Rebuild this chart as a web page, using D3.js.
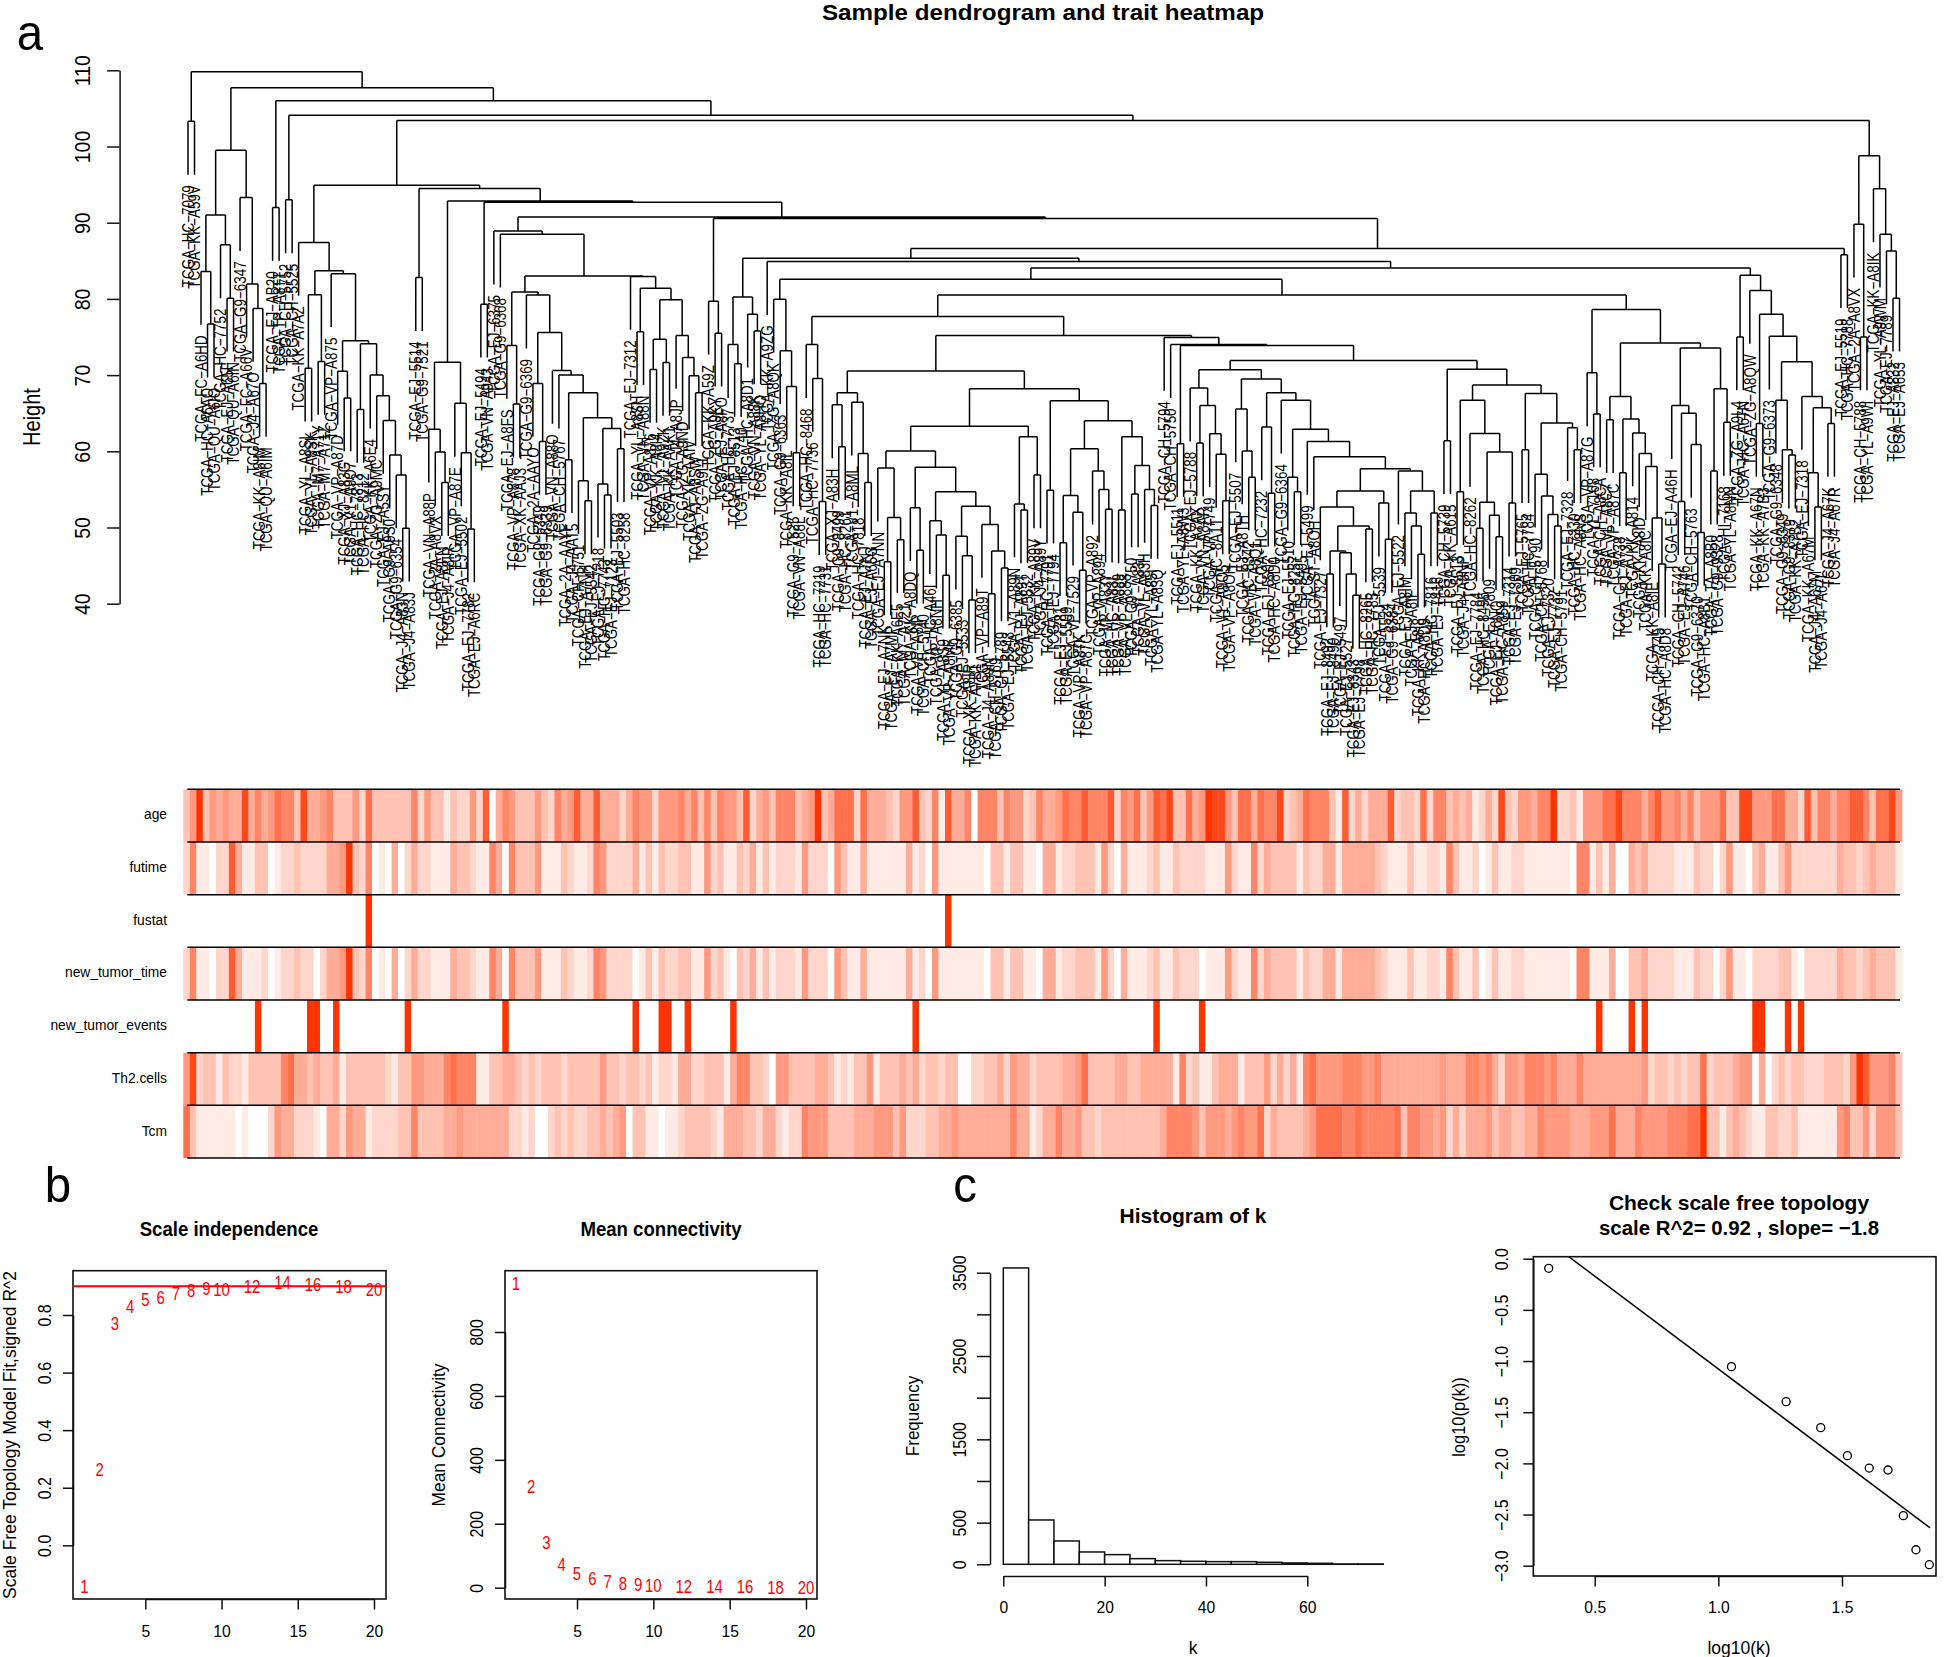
<!DOCTYPE html>
<html>
<head>
<meta charset="utf-8">
<script src="https://cdnjs.cloudflare.com/ajax/libs/d3/7.8.5/d3.min.js"></script>
<style>
html,body{margin:0;padding:0;background:#fff;}
svg{display:block;}
text{font-family:"Liberation Sans",Arial,sans-serif;fill:#000;}
</style>
</head>
<body>
<script>
// ---------- DATA ----------
const traitNames = ["age","futime","fustat","new_tumor_time","new_tumor_events","Th2.cells","Tcm"];

const age = [3,5,10,3,5,4,5,4,4,9,4,6,4,5,7,6,6,3,9,4,4,5,6,3,3,3,5,2,7,3,3,3,3,3,3,6,2,5,3,3,1,3,2,2,5,2,8,0,4,6,5,3,3,3,5,3,2,6,4,5,8,4,4,8,
4,4,4,2,4,6,5,5,2,5,5,5,6,4,6,3,6,3,6,5,5,3,8,2,4,5,3,6,6,6,3,4,5,10,3,4,7,7,7,2,7,4,4,4,3,2,5,5,8,3,2,6,1,8,4,4,6,0,6,6,6,3,6,5,5,
2,3,6,4,4,5,7,6,6,8,6,6,6,8,2,6,5,7,3,5,8,7,9,3,3,7,4,5,10,9,9,5,3,7,7,4,7,6,6,9,2,3,4,7,6,6,6,3,1,8,2,4,2,4,4,4,8,2,3,3,2,
7,2,6,6,3,4,3,4,1,2,4,2,9,3,2,5,5,4,6,6,10,2,2,3,1,5,5,5,7,7,9,6,6,6,4,6,8,5,5,6,4,6,3,5,5,5,7,3,3,9,9,5,5,5,7,7,4,4,2,8,3,6,6,4,6,6,8,8,6,3,7,7,9,5];

const futime = [2,6,1,1,0,2,2,8,4,1,1,3,3,0,1,2,2,3,2,2,2,2,4,4,5,10,3,2,6,0,1,0,4,0,2,4,2,2,1,1,1,4,3,3,2,1,1,6,4,0,6,3,3,3,5,1,1,1,3,2,1,1,2,6,
5,2,2,2,2,4,1,3,1,3,2,2,3,3,1,1,5,2,3,1,1,3,2,4,1,3,1,2,2,2,1,5,2,2,2,0,5,3,1,1,4,1,1,1,1,1,1,4,1,2,0,5,1,1,1,1,1,1,1,0,3,3,1,3,3,
1,1,0,4,4,1,2,2,3,3,3,1,5,2,0,4,1,1,1,2,3,1,1,3,2,2,2,2,1,1,1,5,2,1,1,6,2,4,3,3,3,3,1,3,2,2,4,4,1,4,4,4,4,4,3,2,1,1,1,3,1,
1,2,2,1,6,3,1,1,2,0,1,3,1,1,2,2,1,1,1,1,1,1,1,0,6,6,1,3,1,4,0,0,4,3,4,2,2,2,2,1,1,1,3,2,2,0,2,5,1,1,0,3,4,1,1,3,5,2,2,2,2,2,2,2,4,3,3,2,3,4,3,3,3,1];

const fustat = [0,0,0,0,0,0,0,0,0,0,0,0,0,0,0,0,0,0,0,0,0,0,0,0,0,0,0,0,10,0,0,0,0,0,0,0,0,0,0,0,0,0,0,0,0,0,0,0,0,0,0,0,0,0,0,0,0,0,0,0,0,0,0,0,
0,0,0,0,0,0,0,0,0,0,0,0,0,0,0,0,0,0,0,0,0,0,0,0,0,0,0,0,0,0,0,0,0,0,0,0,0,0,0,0,0,0,0,0,0,0,0,0,0,0,0,0,0,10,0,0,0,0,0,0,0,0,0,0,0,
0,0,0,0,0,0,0,0,0,0,0,0,0,0,0,0,0,0,0,0,0,0,0,0,0,0,0,0,0,0,0,0,0,0,0,0,0,0,0,0,0,0,0,0,0,0,0,0,0,0,0,0,0,0,0,0,0,0,0,0,0,
0,0,0,0,0,0,0,0,0,0,0,0,0,0,0,0,0,0,0,0,0,0,0,0,0,0,0,0,0,0,0,0,0,0,0,0,0,0,0,0,0,0,0,0,0,0,0,0,0,0,0,0,0,0,0,0,0,0,0,0,0,0,0,0,0,0,0,0,0,0,0,0,0,0];

const newTumorTime = [2,6,1,1,0,2,2,8,4,1,1,1,2,0,1,2,2,3,2,2,0,2,4,4,5,10,3,2,6,0,1,0,4,0,2,4,2,2,1,1,1,4,3,3,2,1,1,6,4,0,6,3,3,3,5,1,1,1,3,2,1,1,2,6,
5,2,2,2,2,0,1,3,1,3,2,2,3,3,1,1,5,2,3,1,0,3,2,4,1,3,1,2,2,2,1,5,2,2,2,0,5,3,1,1,4,1,1,1,1,1,1,4,1,2,0,5,1,1,1,1,1,1,1,0,3,3,1,3,3,
1,1,0,4,4,1,2,2,3,3,3,1,5,2,0,4,1,1,1,2,3,1,1,3,2,2,2,0,1,1,1,5,2,1,1,6,2,4,3,3,3,3,1,3,2,2,4,4,1,4,4,4,4,4,3,2,1,1,1,3,1,
1,2,2,1,6,3,1,1,3,0,1,3,1,1,2,2,1,1,1,1,1,1,1,0,6,6,1,1,1,4,0,0,3,3,4,2,2,2,2,1,1,1,3,2,2,0,2,5,1,1,0,2,2,2,2,3,3,1,0,2,2,2,2,2,4,3,3,2,3,4,3,3,3,1];

const newTumorEvents = [0,0,0,0,0,0,0,0,0,0,0,10,0,0,0,0,0,0,0,10,10,0,0,10,0,0,0,0,0,0,0,0,0,0,10,0,0,0,0,0,0,0,0,0,0,0,0,0,0,10,0,0,0,0,0,0,0,0,0,0,0,0,0,0,
0,0,0,0,0,10,0,0,0,10,10,0,0,10,0,0,0,0,0,0,10,0,0,0,0,0,0,0,0,0,0,0,0,0,0,0,0,0,0,0,0,0,0,0,0,0,0,0,10,0,0,0,0,0,0,0,0,0,0,0,0,0,0,0,0,
0,0,0,0,0,0,0,0,0,0,0,0,0,0,0,0,0,0,0,0,10,0,0,0,0,0,0,10,0,0,0,0,0,0,0,0,0,0,0,0,0,0,0,0,0,0,0,0,0,0,0,0,0,0,0,0,0,0,0,0,0,
0,0,0,0,0,0,0,0,0,0,0,0,0,0,0,0,0,0,0,0,0,0,0,0,0,0,0,10,0,0,0,0,10,0,10,0,0,0,0,0,0,0,0,0,0,0,0,0,0,0,0,10,10,0,0,0,10,0,10,0,0,0,0,0,0,0,0,0,0,0,0,0,0,0];

const th2Cells = [5,9,2,3,3,1,3,2,2,1,3,3,3,3,3,6,7,4,4,3,4,3,3,4,1,3,3,3,3,3,3,2,1,3,3,5,5,4,4,4,6,7,6,6,6,1,1,3,3,4,4,3,2,3,2,3,3,3,2,3,3,3,3,3,
5,3,3,2,3,3,2,3,1,2,2,1,4,4,2,2,3,3,3,1,4,6,6,3,3,2,0,5,5,3,3,3,3,4,4,3,1,2,1,3,3,5,1,3,3,3,4,3,4,2,3,3,2,3,3,0,0,2,2,3,3,4,2,5,4,
4,2,3,3,3,3,4,4,5,7,3,3,3,3,4,4,3,3,4,4,4,4,4,1,6,2,3,1,1,3,4,4,4,1,3,3,3,5,2,4,2,4,1,6,7,5,5,5,5,6,6,6,5,5,6,4,4,4,4,4,4,
4,4,4,5,4,4,4,6,6,5,6,4,2,5,5,4,6,6,6,5,6,4,4,4,6,4,4,4,4,4,4,4,4,4,5,2,3,3,2,3,2,3,3,7,2,3,3,3,4,5,5,0,4,0,2,3,2,3,3,2,2,2,3,3,3,2,5,10,8,5,5,5,6,3];

const tcm = [7,3,1,1,1,1,1,1,0,1,0,0,0,2,5,4,4,2,2,2,1,0,4,4,2,5,4,4,1,2,2,2,2,3,3,6,3,3,3,3,4,4,5,4,4,4,4,4,4,4,2,2,1,2,0,0,2,3,2,3,2,2,3,3,
4,3,4,5,0,3,3,1,1,0,1,1,2,3,3,3,3,2,1,4,4,4,3,3,2,4,4,2,1,2,2,6,5,5,5,3,3,3,3,4,4,4,5,5,5,3,5,2,2,2,3,3,4,4,5,4,4,4,4,4,4,4,4,6,4,
4,1,2,4,4,6,4,4,5,3,3,2,3,3,3,3,3,3,3,3,3,4,6,6,6,6,5,3,5,5,5,4,5,6,5,5,7,2,4,3,3,3,3,4,5,7,7,7,7,6,6,7,6,6,6,6,6,7,3,6,6,
5,5,4,5,2,4,2,4,4,4,5,3,4,4,3,3,4,4,6,5,5,5,5,4,4,4,5,5,5,7,4,4,4,6,5,5,5,5,6,6,6,7,7,10,3,3,1,3,4,3,2,1,1,3,3,2,2,3,1,1,1,1,1,1,5,6,3,3,5,2,5,5,5,3];

const traitRows = [age, futime, fustat, newTumorTime, newTumorEvents, th2Cells, tcm];

const leafLabels = ["TCGA-HC-7079","TCGA-KK-A59V","TCGA-FC-A6HD","TCGA-HC-A6AO","TCGA-QU-A6IO","TCGA-HC-7752","TCGA-EJ-A65F","TCGA-QU-A6IN","TCGA-G9-6347","TCGA-FC-A66V",
"TCGA-J4-A67O","TCGA-KK-A8IM","TCGA-QU-A6IM","TCGA-EJ-AB20","TCGA-TP-A8TT","TCGA-CH-5752","TCGA-CH-5525","TCGA-KK-A7AZ","TCGA-YL-A8SL","TCGA-YL-A8SK",
"TCGA-M7-A71Y","TCGA-M7-A71Z","TCGA-VP-A875","TCGA-VP-A87D","TCGA-XJ-A83G","TCGA-V1-A9O7","TCGA-HC-7813","TCGA-HC-8212","TCGA-KK-A6E4","TCGA-ZG-A9MC",
"TCGA-EJ-A5SY","TCGA-G9-A9S0","TCGA-G9-6354","TCGA-J4-A83N","TCGA-J4-A83J","TCGA-EJ-5514","TCGA-G9-7521","TCGA-VN-A88P","TCGA-2A-A8VX","TCGA-EJ-A8FN",
"TCGA-J4-A8IR","TCGA-VP-A87E","TCGA-EJ-5502","TCGA-EJ-7782","TCGA-EJ-A6RC","TCGA-EJ-5494","TCGA-VN-A943","TCGA-EJ-6375","TCGA-G9-6368","TCGA-EJ-A8FS",
"TCGA-VP-A878","TCGA-XK-AAJ3","TCGA-G9-6369","TCGA-2A-AAYO","TCGA-G9-6349","TCGA-G9-6339","TCGA-VN-A88O","TCGA-CH-5767","TCGA-2A-AAYF","TCGA-J4-AAT5",
"TCGA-CH-5751","TCGA-EJ-A7NH","TCGA-EJ-5542","TCGA-EJ-7218","TCGA-HC-7743","TCGA-EJ-7123","TCGA-EJ-5503","TCGA-HC-8258","TCGA-EJ-7312","TCGA-YL-A8SH",
"TCGA-VN-A88N","TCGA-VP-A876","TCGA-KK-A8I4","TCGA-V1-A9ZK","TCGA-KK-AAK1","TCGA-J4-A8JP","TCGA-ZG-A9ND","TCGA-XK-AAIV","TCGA-YJ-A8SW","TCGA-ZG-A9L1",
"TCGA-KK-A59Z","TCGA-ZG-A9KY","TCGA-EJ-A8FO","TCGA-HC-7737","TCGA-EJ-8513","TCGA-HC-7740","TCGA-HC-A8D1","TCGA-VN-A88K","TCGA-YL-A8HO","TCGA-KK-A9ZG",
"TCGA-ZG-A8QK","TCGA-G9-6363","TCGA-KK-A8IL","TCGA-G9-7525","TCGA-VN-A88L","TCGA-HC-8468","TCGA-HC-7736","TCGA-HC-7219","TCGA-HC-7731","TCGA-XJ-A83H",
"TCGA-G9-8499","TCGA-HC-8261","TCGA-V1-A8ML","TCGA-HC-7818","TCGA-EJ-A7NJ","TCGA-EJ-A65G","TCGA-EJ-A7NN","TCGA-EJ-A7NK","TCGA-EJ-A7MP","TCGA-KK-A6E5",
"TCGA-M7-A721","TCGA-KK-A8DQ","TCGA-VP-A8IP","TCGA-CH-5740","TCGA-HC-A46I","TCGA-VP-A8NH","TCGA-YL-A8S9","TCGA-VP-A8MF","TCGA-G9-6385","TCGA-EJ-5533",
"TCGA-XK-A8IR","TCGA-KK-A7B1","TCGA-VP-A89T","TCGA-J4-A89N","TCGA-CH-5769","TCGA-CH-5789","TCGA-EJ-5543","TCGA-V1-A89N","TCGA-EJ-A89T","TCGA-EJ-5532",
"TCGA-KK-A89V","TCGA-J4-A89Y","TCGA-HC-7791","TCGA-EJ-7794","TCGA-EJ-7781","TCGA-EJ-5509","TCGA-VP-7529","TCGA-VP-A87K","TCGA-VP-A87C","TCGA-VP-A892",
"TCGA-VP-A894","TCGA-VP-A83Y","TCGA-HC-A83L","TCGA-VP-A889","TCGA-VP-A888","TCGA-G9-7750","TCGA-YL-A83I","TCGA-VL-A83H","TCGA-YL-A85I","TCGA-YL-A83Q",
"TCGA-CH-5794","TCGA-CH-5750","TCGA-EJ-5511","TCGA-YL-A8W3","TCGA-EJ-5788","TCGA-KK-A7AX","TCGA-VN-A8AR","TCGA-VP-7749","TCGA-HC-8A1T","TCGA-V1-A9O5",
"TCGA-VP-A8OH","TCGA-EJ-5507","TCGA-EJ-A8TH","TCGA-HC-8342","TCGA-VP-A8Q1","TCGA-HC-7232","TCGA-EJ-5507","TCGA-HC-A8D0","TCGA-G9-6364","TCGA-EJ-5510",
"TCGA-HC-8257","TCGA-EJ-5495","TCGA-EJ-5499","TCGA-ST-A8OH","TCGA-EJ-7327","TCGA-EJ-8492","TCGA-EJ-8490","TCGA-EJ-5497","TCGA-EJ-5527","TCGA-EJ-8343",
"TCGA-EJ-7798","TCGA-HC-8265","TCGA-HC-7785","TCGA-EJ-5539","TCGA-EJ-5524","TCGA-G9-6384","TCGA-EJ-5522","TCGA-EJ-A8IM","TCGA-EJ-A8IF","TCGA-KK-A8I8",
"TCGA-HC-A8D9","TCGA-HC-7816","TCGA-EJ-7416","TCGA-CH-5739","TCGA-KK-A615","TCGA-EJ-5513","TCGA-J4-A8NP","TCGA-HC-8262","TCGA-EJ-7784","TCGA-HC-8496",
"TCGA-EJ-7809","TCGA-EJ-A6NQ","TCGA-HC-A859","TCGA-EJ-7314","TCGA-EJ-7309","TCGA-EJ-5765","TCGA-HC-7784","TCGA-CH-5790","TCGA-CH-5768","TCGA-EJ-7320",
"TCGA-EJ-7732","TCGA-CH-5791","TCGA-EJ-7328","TCGA-HC-7230","TCGA-HC-A8NS","TCGA-VP-A87G","TCGA-YL-7168","TCGA-CH-A8CA","TCGA-VL-A8C7","TCGA-VP-A87C",
"TCGA-CH-A738","TCGA-EJ-A737","TCGA-KK-A814","TCGA-KK-A8ID","TCGA-KK-A8IC","TCGA-KK-A8IE","TCGA-CH-7745","TCGA-HC-A8D8","TCGA-EJ-A46H","TCGA-CH-5742",
"TCGA-EJ-A746","TCGA-CH-5763","TCGA-G9-6370","TCGA-HC-A8B1","TCGA-TA-A8B0","TCGA-G9-9328","TCGA-HI-7168","TCGA-YL-A8NN","TCGA-ZG-A9L4","TCGA-HC-A67N",
"TCGA-ZG-A8QW","TCGA-KK-A67N","TCGA-KK-A7B3","TCGA-G9-6373","TCGA-G9-6348","TCGA-G9-6349","TCGA-G9-8379","TCGA-KK-A7B2","TCGA-EJ-7318","TCGA-KK-A67M",
"TCGA-J4-A67M","TCGA-J4-A67L","TCGA-J4-A67K","TCGA-J4-A67R","TCGA-EJ-5519","TCGA-HC-7788","TCGA-2A-A8VX","TCGA-CH-5788","TCGA-YL-A9WI","TCGA-KK-A8IK",
"TCGA-YL-A9WM","TCGA-EJ-7789","TCGA-EJ-A832","TCGA-EJ-A653"];

// dendrogram, written as [height, leftChild, rightChild]; integers are positions in leafLabels
const subB = [99.5,[91,[83.6,2,[76.7,3,4]],[87.1,5,[80.1,6,7]]],[93.3,8,[81.95,9,[78.75,10,[68.9,11,12]]]]];
const subC = [87.4,17,[83.7,[80.55,[70.9,18,19],[71.8,20,21]],[83.3,22,[74.5,[70.5,23,[67,24,25]],[74.1,[65.5,26,27],[70,28,[67.3,29,[64.05,30,[59.5,31,[56.9,32,[49.9,33,34]]]]]]]]]]];
const subD = [71.7,[62.9,37,[59.9,38,[55.9,39,40]]],[66.3,41,[59.8,42,[49.8,43,44]]]];
const subE1 = [80.9,[73.9,49,[66.2,50,51]],[80.5,52,[75.6,[68.9,53,[61.3,54,55]],[70.6,56,[70,57,[67.7,[58.9,58,59],[64.4,[56.15,60,[53.5,61,62]],[63,[55.7,63,[54.25,64,65]],[60.35,66,67]]]]]]]]];
const subE2 = [82.95,68,[81.4,[75.7,69,70],[79.9,[74.7,[70.75,71,72],[71.65,73,74]],[75.2,75,[72.3,76,[69.9,77,[67.7,78,79]]]]]]];
const subE = [88.9,47,[88.5,48,[83,subE1,subE2]]];
const subF = [79.7,80,[75.5,81,82]];
const subG = [80.25,[74,83,[71.5,84,85]],[78,86,[75.8,87,88]]];
const subH = [79.96,90,[73.2,91,[68.5,92,[59.8,93,94]]]];
const subI = [74,95,[69.55,96,[53.4,97,98]]];
const subJ = [67.7,[66.1,99,[60.6,100,101]],[66.45,102,[59.7,103,[55.9,104,105]]]];
const subK1 = [57.8,106,[51.3,[45.5,107,108],[48.4,109,110]]];
const subK2 = [52.6,111,[47,112,113]];
const subK3 = [50.9,114,[49,115,[43.75,116,117]]];
const subK4 = [48.85,118,[46.3,119,[40.5,120,121]]];
const subK5 = [50.4,122,[46.9,[41.3,123,124],[44.7,125,126]]];
const subK6 = [61.9,[53.1,127,[52.3,128,129]],[56.9,130,131]];
const subK = [63.3,[60.05,subK1,[57.9,subK2,[54.7,subK3,[52.8,subK4,subK5]]]],subK6];
const subL = [66.65,[54.9,132,133],[64,[60.35,[54.2,[48,134,135],[52,136,[44.4,137,138]]],[57.4,139,[55,140,[52.4,141,142]]]],[61.9,[52.3,143,144],[58.15,[54.4,145,146],[55,147,[52.9,148,149]]]]]];
const subM = [70.55,subJ,[68.2,subK,subL]];
const subN1 = [57.7,[54.8,[52.7,174,[50.2,[46.9,[43.9,175,176],[46.7,177,[43.9,178,[41.1,179,180]]]],[49.8,181,182]]],[53.2,183,[48.45,184,185]]],[57.4,186,[54.8,[51.9,187,[50.2,188,[46.5,189,190]]],[51.9,191,192]]]];
const subN2 = [66.7,168,[62.9,[56.6,169,[54.7,170,171]],[61.3,172,[59.3,173,subN1]]]];
const subN = [70.7,[68.3,154,[66,[61.1,155,156],[62.3,157,[59.6,158,[53.5,159,160]]]]],[69.5,[65.55,161,[60.05,162,[56.6,163,164]]],[67.7,[63.2,165,[54.5,166,167]],subN2]]];
const subO = [70.76,[61.4,193,194],[68.7,[66.7,[54.7,195,196],[62.35,197,[59.9,[53.3,[49.9,198,199],[51.6,200,[48.8,201,202]]],[53.2,203,204]]]],[67.6,[60.2,205,206],[63.7,[57,207,[54.15,208,[51.7,209,[50.2,210,211]]]],[63.1,212,[60.2,213,214]]]]]];
const subP = [74.95,150,[74,151,[73.9,[61,152,153],[71.9,subN,subO]]]];
const subQ = [78.6,[70.3,215,[64.9,216,217]],[74.2,[67.2,[64.15,218,219],[64.25,[57.2,220,221],[62.4,222,[59.7,223,[58,224,[51.25,225,[45.2,226,227]]]]]]],[73.55,[66,228,[65,[53.4,229,230],[60.9,231,[49.35,232,233]]]],[68.2,[57.4,234,235],[63.8,236,237]]]]];
const subR = [83.1,[75,238,239],[81.1,240,[78,[63.65,241,242],[75.1,243,[71.75,[66.7,244,[60.2,245,[59.5,246,247]]],[67.2,248,[65.7,[57.2,249,[52.7,250,251]],[63.65,252,253]]]]]]]];
const subS = [82.58,subH,[80.5,[77.7,subI,[75.2,subM,subP]],subQ]];
const subT = [86.6,[85.35,subG,[84.9,89,[84.06,subS,subR]]],[85.8,254,255]];
const subU = [98.8,[89.8,256,[75,257,258]],[94.45,259,[88.5,260,[86.3,261,[80.1,262,263]]]]];
const subV = [94.9,subC,[94.5,[82.8,35,36],[92.85,subD,[92.7,[79.3,45,46],[90.75,subE,[90.55,subF,subT]]]]]];
const dendrogram = [109.8,[103.3,0,1],[107.7,subB,[106,[92,13,14],[104.1,[93,15,16],[103.4,subV,subU]]]]];
const leafHang = 7;

const heightTicks = [40,50,60,70,80,90,100,110];

const powers = [1,2,3,4,5,6,7,8,9,10,12,14,16,18,20];
const sftR2 = [-0.145,0.263,0.769,0.829,0.854,0.861,0.872,0.885,0.89,0.888,0.899,0.91,0.904,0.897,0.888];
const meanK = [950,315,139,72,43,27,19,13,9,7,4,3,2,1,1];
const r2Cut = 0.9;
const powerTicks = [5,10,15,20];
const r2Ticks = [0,0.2,0.4,0.6,0.8];
const meanKTicks = [0,200,400,600,800];

const histEdges = [0,5,10,15,20,25,30,35,40,45,50,55,60,65,70,75];
const histCounts = [3557,532,280,148,116,68,44,36,32,32,24,16,12,4,4];
const freqMinorTicks = [0,500,1000,1500,2000,2500,3000,3500];
const freqLabelled = [0,500,1500,2500,3500];
const kTicks = [0,20,40,60];

const logK = [0.314,1.053,1.274,1.414,1.522,1.61,1.686,1.748,1.799,1.853];
const logPk = [-0.094,-1.055,-1.397,-1.651,-1.925,-2.046,-2.065,-2.511,-2.844,-2.99];
const fitLineX = [0.314,1.856];
const fitLineY = [0.167,-2.63];
const logKTicks = [0.5,1.0,1.5];
const logPTicks = [0,-0.5,-1,-1.5,-2,-2.5,-3];

// ---------- CHECKS ----------
const allLists = {age,futime,fustat,newTumorTime,newTumorEvents,th2Cells,tcm,leafLabels};
const badLists = Object.keys(allLists).filter(k=>allLists[k].length!==264).map(k=>k+"="+allLists[k].length);
if (badLists.length) throw new Error("lengths " + badLists.join(" "));

// ---------- DRAW ----------
const svg = d3.select("body").append("svg").attr("width",1946).attr("height",1657);
const minus = s => String(s).replace(/-/g,"\u2212");
const SQ = 0.95;
const WIDE = 1.16;   // rotated text in the reference is stretched across its line

function text(g,x,y,str,size,opts={}){
  const t = g.append("text").text(str)
    .attr("font-size",size).attr("text-anchor",opts.anchor||"middle").attr("dy","0.35em");
  if(opts.bold) t.attr("font-weight","bold");
  if(opts.fill) t.style("fill",opts.fill);
  const sx = opts.squeeze||1, sy = opts.wide||1;
  t.attr("transform",`translate(${x},${y})` + (opts.rot?` rotate(${opts.rot})`:"") + ((sx!==1||sy!==1)?` scale(${sx},${sy})`:""));
  return t;
}
function styleAxis(g,sw=1.5){
  g.selectAll("path.domain").attr("stroke","#111").attr("stroke-width",sw);
  g.selectAll(".tick line").attr("stroke","#111").attr("stroke-width",sw);
}
function leftAxis(scale,x,ticks,fmt,size,labelDist,tickLen=10){
  const g = svg.append("g").attr("transform",`translate(${x},0)`)
    .call(d3.axisLeft(scale).tickValues(ticks).tickSize(tickLen).tickSizeOuter(0).tickFormat(fmt));
  styleAxis(g);
  g.attr("font-family",null);
  g.selectAll(".tick text").attr("x",null).attr("dy","0.35em").attr("text-anchor","middle")
    .attr("font-size",size)
    .attr("transform",`translate(${-labelDist},0) rotate(-90) scale(1,${WIDE})`);
  return g;
}
function bottomAxis(scale,y,ticks,fmt,size,labelDist,tickLen=10.5){
  const g = svg.append("g").attr("transform",`translate(0,${y})`)
    .call(d3.axisBottom(scale).tickValues(ticks).tickSize(tickLen).tickSizeOuter(0).tickFormat(fmt));
  styleAxis(g);
  g.attr("font-family",null);
  g.selectAll(".tick text").attr("y",null).attr("dy","0.35em").attr("font-size",size)
    .attr("transform",`translate(0,${labelDist}) scale(${SQ},1)`);
  return g;
}
function box(x0,y0,x1,y1){
  svg.append("rect").attr("x",x0).attr("y",y0).attr("width",x1-x0).attr("height",y1-y0)
    .attr("fill","none").attr("stroke","#111").attr("stroke-width",1.6);
}

// titles and panel letters
text(svg,1043,12,"Sample dendrogram and trait heatmap",21.5,{bold:true,squeeze:1.126});
[["a",30,32],["b",58,1184],["c",965,1184]].forEach(d=>text(svg,d[1],d[2],d[0],50,{squeeze:0.95}));

// --- dendrogram ---
const yH = d3.scaleLinear().domain([40,110]).range([603.7,70.3]);
const xLeaf = d3.scaleLinear().domain([0,263]).range([188,1899.5]);
leftAxis(yH,119.6,heightTicks,d3.format("d"),19.5,37.5,12.5);
text(svg,32,417,"Height",20,{rot:-90,wide:WIDE});

const dPath = d3.path();
const leafEnds = [];
function place(n){
  if(typeof n === "number") return {x:xLeaf(n),leaf:n};
  const l = place(n[1]), r = place(n[2]);
  const h = n[0], y = yH(h);
  [l,r].forEach(c=>{
    dPath.moveTo(c.x,y);
    if(c.leaf!==undefined){
      const ye = yH(h-leafHang);
      dPath.lineTo(c.x,ye);
      leafEnds.push({i:c.leaf,x:c.x,y:ye});
    } else dPath.lineTo(c.x,c.y);
  });
  dPath.moveTo(l.x,y); dPath.lineTo(r.x,y);
  return {x:(l.x+r.x)/2,y};
}
place(dendrogram);
if(leafEnds.length!==264) throw new Error("leaves "+leafEnds.length);
svg.append("path").attr("d",dPath.toString()).attr("fill","none").attr("stroke","#000").attr("stroke-width",1.5);
svg.append("g").selectAll("text").data(leafEnds).join("text")
  .text(d=>minus(leafLabels[d.i]))
  .attr("font-size",13.4).attr("text-anchor","end").attr("dy","0.35em")
  .attr("transform",d=>`translate(${d.x},${d.y+10.5}) rotate(-90) scale(1,1.22)`);

// --- trait heatmap ---
const xCell = d3.scaleBand().domain(d3.range(264)).range([183.3,1902]);
const yRow = d3.scaleBand().domain(traitNames).range([789.3,1158]);
const cellColor = d3.scaleLinear().domain([0,10]).range(["#ffffff","#ff3300"]);
traitRows.forEach((row,ri)=>{
  const name = traitNames[ri];
  svg.append("g").selectAll("rect").data(row).join("rect")
    .attr("x",(d,i)=>xCell(i)).attr("y",yRow(name))
    .attr("width",xCell.bandwidth()+0.4).attr("height",yRow.bandwidth())
    .attr("fill",d=>cellColor(d));
  text(svg,167,yRow(name)+yRow.bandwidth()/2-1,name,13.8,{anchor:"end"});
});
const rowLines = [...traitNames.map(n=>yRow(n)),yRow.range()[1]];
svg.append("g").selectAll("line").data(rowLines).join("line")
  .attr("x1",187.3).attr("x2",1900).attr("y1",d=>d).attr("y2",d=>d)
  .attr("stroke","#000").attr("stroke-width",1.5);

// --- panel b, scale independence ---
const b1x = d3.scaleLinear().domain([5,20]).range([145.3,374]);
const b1y = d3.scaleLinear().domain([0,0.8]).range([1545.3,1315]);
box(73,1270.7,386,1599);
bottomAxis(b1x,1599,powerTicks,d3.format("d"),16.5,32);
leftAxis(b1y,73,r2Ticks,d3.format(".1f"),16,28.5);
text(svg,229,1229,"Scale independence",20,{bold:true,squeeze:0.93});
text(svg,10,1435,"Scale Free Topology Model Fit,signed R^2",17.5,{rot:-90});
svg.append("line").attr("x1",73).attr("x2",386).attr("y1",b1y(r2Cut)).attr("y2",b1y(r2Cut)).attr("stroke","#ff0000").attr("stroke-width",2);
powers.forEach((p,i)=>text(svg,b1x(p),b1y(sftR2[i]),p,17.5,{fill:"#ff0000",squeeze:0.85}));

// --- panel b, mean connectivity ---
const b2x = d3.scaleLinear().domain([5,20]).range([577,806]);
const b2y = d3.scaleLinear().domain([0,800]).range([1587.7,1332]);
box(505,1270.7,817,1599);
bottomAxis(b2x,1599,powerTicks,d3.format("d"),16.5,32);
leftAxis(b2y,505,meanKTicks,d3.format("d"),16,29);
text(svg,661,1229,"Mean connectivity",20,{bold:true,squeeze:0.93});
text(svg,438,1435,"Mean Connectivity",17.4,{rot:-90,wide:1.1});
powers.forEach((p,i)=>text(svg,b2x(p),b2y(meanK[i]),p,17.5,{fill:"#ff0000",squeeze:0.85}));

// --- panel c, histogram ---
const c1x = d3.scaleLinear().domain([0,60]).range([1003.3,1307.3]);
const c1y = d3.scaleLinear().domain([0,3500]).range([1564.3,1272.7]);
svg.append("g").selectAll("rect").data(histCounts).join("rect")
  .attr("x",(d,i)=>c1x(histEdges[i])).attr("width",(d,i)=>c1x(histEdges[i+1])-c1x(histEdges[i]))
  .attr("y",d=>c1y(d)).attr("height",d=>c1y(0)-c1y(d))
  .attr("fill","#fff").attr("stroke","#111").attr("stroke-width",1.5);
leftAxis(c1y,990,freqMinorTicks,d=>freqLabelled.includes(d)?d:"",16,31,13);
bottomAxis(c1x,1576,kTicks,d3.format("d"),16.5,31);
text(svg,1193,1216,"Histogram of k",21,{bold:true});
text(svg,912,1416,"Frequency",17,{rot:-90,wide:1.1});
text(svg,1193,1648,"k",17.5);

// --- panel c, scale free fit ---
const c2x = d3.scaleLinear().domain([0.5,1.5]).range([1594.7,1842]);
const c2y = d3.scaleLinear().domain([0,-3]).range([1258.7,1565.7]);
svg.append("defs").append("clipPath").attr("id","c2clip").append("rect").attr("x",1533.3).attr("y",1256.7).attr("width",402.7).attr("height",319.3);
box(1533.3,1256.7,1936,1576);
bottomAxis(c2x,1576,logKTicks,d3.format(".1f"),16.5,31);
leftAxis(c2y,1533.3,logPTicks,d=>minus(d3.format(".1f")(d)),16,32);
svg.append("line").attr("clip-path","url(#c2clip)")
  .attr("x1",c2x(fitLineX[0])).attr("y1",c2y(fitLineY[0])).attr("x2",c2x(fitLineX[1])).attr("y2",c2y(fitLineY[1]))
  .attr("stroke","#000").attr("stroke-width",1.5);
svg.append("g").selectAll("circle").data(logK).join("circle")
  .attr("cx",d=>c2x(d)).attr("cy",(d,i)=>c2y(logPk[i])).attr("r",4)
  .attr("fill","none").attr("stroke","#000").attr("stroke-width",1.3);
text(svg,1739,1203,"Check scale free topology",21,{bold:true});
text(svg,1739,1228,"scale R^2= 0.92 , slope= \u22121.8",20.4,{bold:true});
text(svg,1459,1417,"log10(p(k))",16.5,{rot:-90,wide:1.1});
text(svg,1739,1648,"log10(k)",17.5);
</script>
</body>
</html>
